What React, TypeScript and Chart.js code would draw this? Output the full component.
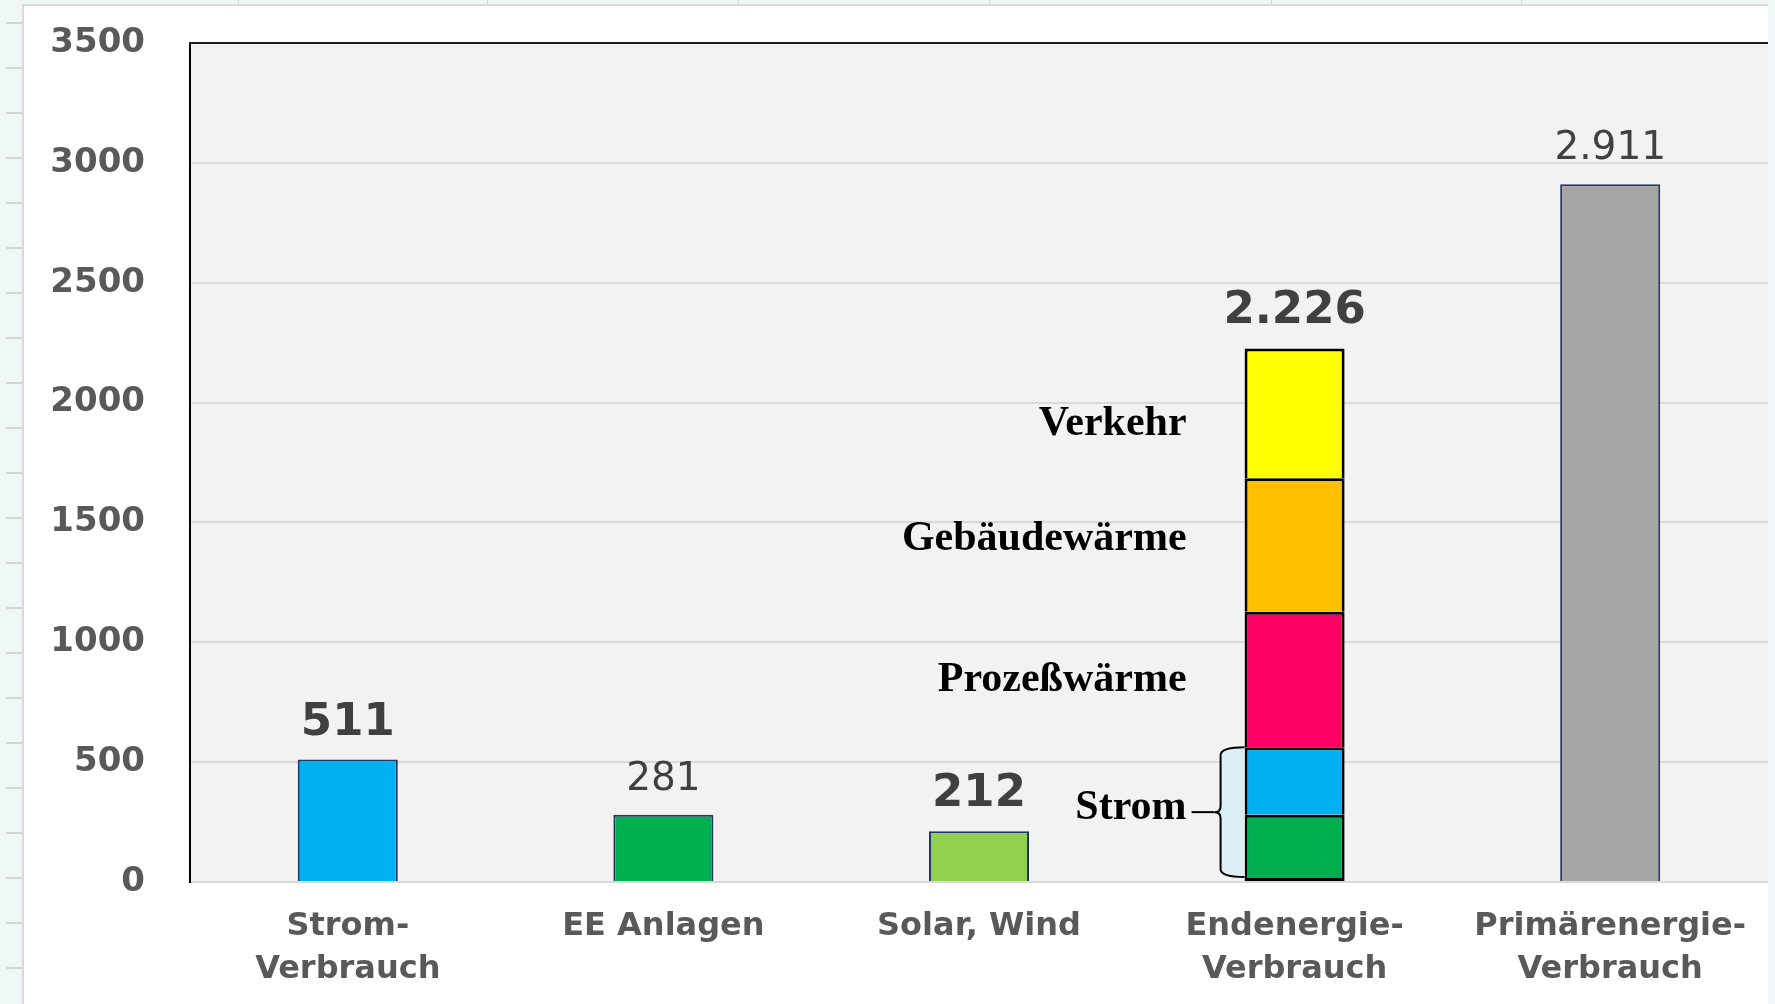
import React, { useEffect, useRef } from "react";
import { Chart, registerables } from "chart.js";

Chart.register(...registerables);

// ---------- data ----------
const categories: (string | string[])[] = [
  ["Strom-", "Verbrauch"],
  "EE Anlagen",
  "Solar, Wind",
  ["Endenergie-", "Verbrauch"],
  ["Primärenergie-", "Verbrauch"],
];
const singleValues: (number | null)[] = [511, 281, 212, null, 2911];
const singleColors = ["#00b0f0", "#00b050", "#92d050", "rgba(0,0,0,0)", "#a6a6a6"];
const valueLabelBold = [true, false, true, true, false];

const stackIndex = 3;
const stackNames = ["Strom (EE)", "Strom", "Prozeßwärme", "Gebäudewärme", "Verkehr"];
const stackValues = [281, 281, 565, 557, 542];
const stackColors = ["#00b050", "#00b0f0", "#ff0066", "#ffc000", "#ffff00"];

// side labels: text, first segment, last segment
const sideLabelNames = ["Strom", "Prozeßwärme", "Gebäudewärme", "Verkehr"];
const sideLabelFrom = [0, 2, 3, 4];
const sideLabelTo = [1, 2, 3, 4];

const yMin = 0;
const yMax = 3500;
const yStep = 500;

// style: small vertical nudges of the side labels (px)
const sideLabelNudge = [-7, -3, -9, 8];

// spreadsheet column edges visible at the top of the screenshot
const sheetColumnEdges = [238, 487, 738, 989, 1271, 1521];

function formatDE(n: number): string {
  if (n >= 1000) {
    return Math.floor(n / 1000) + "." + String(n % 1000).padStart(3, "0");
  }
  return String(n);
}

const overlayPlugin = {
  id: "overlay",
  beforeDraw(chart: any) {
    const { ctx, chartArea } = chart;
    ctx.save();
    ctx.fillStyle = "#f2f2f2";
    ctx.fillRect(chartArea.left, chartArea.top, chartArea.right - chartArea.left, chartArea.bottom - chartArea.top);
    ctx.restore();
  },
  afterDatasetsDraw(chart: any) {
    const { ctx, chartArea } = chart;
    const x = chart.scales.x;
    const y = chart.scales.y;
    ctx.save();

    // top border of plot area
    ctx.strokeStyle = "#1a1a1a";
    ctx.lineWidth = 2;
    ctx.beginPath();
    ctx.moveTo(chartArea.left - 1, chartArea.top);
    ctx.lineTo(chartArea.right, chartArea.top);
    ctx.stroke();

    // value labels
    const stackTotal = stackValues.reduce((a, b) => a + b, 0);
    ctx.fillStyle = "#404040";
    ctx.textAlign = "center";
    ctx.textBaseline = "alphabetic";
    categories.forEach((_, i) => {
      const v = i === stackIndex ? stackTotal : singleValues[i];
      if (v == null) return;
      ctx.font = valueLabelBold[i] ? 'bold 45px "DejaVu Sans"' : '39px "DejaVu Sans"';
      ctx.fillText(formatDE(v), x.getPixelForValue(i), y.getPixelForValue(v) - 25);
    });

    // cumulative boundaries of the stacked bar
    const cum = [0];
    stackValues.forEach((v) => cum.push(cum[cum.length - 1] + v));
    const el = chart.getDatasetMeta(1).data[stackIndex];
    const barLeft = el.x - el.width / 2;
    const labelRight = barLeft - 58;

    // brace for "Strom"
    const topY = y.getPixelForValue(cum[sideLabelTo[0] + 1]);
    const botY = y.getPixelForValue(cum[0]) - 5;
    const midY = (topY + botY) / 2;
    const bx = barLeft - 24;
    const brace = new Path2D();
    brace.moveTo(barLeft, topY);
    brace.quadraticCurveTo(bx, topY, bx, topY + 8);
    brace.lineTo(bx, midY - 6);
    brace.quadraticCurveTo(bx, midY, bx - 6, midY);
    brace.quadraticCurveTo(bx, midY, bx, midY + 6);
    brace.lineTo(bx, botY - 8);
    brace.quadraticCurveTo(bx, botY, barLeft, botY);
    const fill = new Path2D(brace);
    fill.closePath();
    ctx.fillStyle = "#daeef3";
    ctx.fill(fill);
    ctx.strokeStyle = "#000";
    ctx.lineWidth = 2;
    ctx.stroke(brace);
    ctx.beginPath();
    ctx.moveTo(bx - 6, midY);
    ctx.lineTo(barLeft - 53, midY);
    ctx.stroke();

    // side labels
    ctx.fillStyle = "#000";
    ctx.textAlign = "right";
    ctx.font = 'bold 42px "Liberation Serif"';
    sideLabelNames.forEach((name, k) => {
      const mid =
        k === 0
          ? midY
          : (y.getPixelForValue(cum[sideLabelFrom[k]]) + y.getPixelForValue(cum[sideLabelTo[k] + 1])) / 2;
      ctx.fillText(name, labelRight, mid + 14 + sideLabelNudge[k]);
    });

    ctx.restore();
  },
};

export default function App() {
  const ref = useRef<HTMLCanvasElement | null>(null);

  useEffect(() => {
    if (!ref.current) return;
    Chart.defaults.font.family = '"DejaVu Sans"';

    const datasets: any[] = [
      {
        label: "Werte",
        data: singleValues,
        backgroundColor: singleColors,
        borderColor: "#203864",
        borderWidth: 2,
        stack: "s",
      },
      ...stackValues.map((v, k) => ({
        label: stackNames[k],
        data: categories.map((_, i) => (i === stackIndex ? v : null)),
        backgroundColor: stackColors[k],
        borderColor: "#000",
        borderWidth: 3,
        borderSkipped: k === 0 ? false : "start",
        stack: "s",
      })),
    ];

    const chart = new Chart(ref.current, {
      type: "bar",
      data: { labels: categories as any, datasets },
      options: {
        responsive: false,
        animation: false,
        datasets: { bar: { categoryPercentage: 1, barPercentage: 0.317 } },
        layout: { padding: { top: 37, left: 0, right: 0, bottom: 0 } },
        plugins: {
          legend: { display: false },
          tooltip: { enabled: false },
          title: { display: false },
        },
        scales: {
          x: {
            stacked: true,
            grid: { display: false, drawTicks: false },
            border: { color: "#d9d9d9", width: 2 },
            ticks: {
              color: "#595959",
              font: { size: 32, weight: "bold", lineHeight: 1.32 },
              padding: 24,
              maxRotation: 0,
              autoSkip: false,
            },
            afterFit: (s: any) => {
              s.height = 122;
              s.paddingLeft = 0;
              s.paddingRight = 0;
              s.paddingTop = 0;
              s.paddingBottom = 0;
            },
          },
          y: {
            stacked: true,
            min: yMin,
            max: yMax,
            ticks: {
              stepSize: yStep,
              color: "#595959",
              font: { size: 34, weight: "bold" },
              padding: 45,
              callback: (v: any) => String(v),
            },
            grid: { color: "#d9d9d9", lineWidth: 2, drawTicks: false },
            border: { color: "#000", width: 2 },
            afterFit: (s: any) => {
              s.width = 166;
              s.paddingTop = 0;
              s.paddingBottom = 0;
              s.paddingLeft = 0;
              s.paddingRight = 0;
            },
          },
        },
      } as any,
      plugins: [overlayPlugin],
    });
    return () => chart.destroy();
  }, []);

  return (
    <div
      style={{
        position: "absolute",
        left: 0,
        top: 0,
        width: 1775,
        height: 1004,
        background: "#eff6f6",
        overflow: "hidden",
      }}
    >
      <div
        style={{
          position: "absolute",
          left: 6,
          top: 0,
          width: 18,
          height: 1004,
          backgroundImage:
            "repeating-linear-gradient(to bottom, transparent 0px, transparent 22px, #d4d4d4 22px, #d4d4d4 24px, transparent 24px, transparent 45px)",
        }}
      />
      {sheetColumnEdges.map((cx) => (
        <div key={cx} style={{ position: "absolute", left: cx, top: 0, width: 1, height: 5, background: "#d0d0d0" }} />
      ))}
      <div
        style={{
          position: "absolute",
          left: 22,
          top: 4,
          width: 1744,
          height: 1000,
          borderLeft: "2px solid #d9d9d9",
          borderTop: "2px solid #d9d9d9",
          background: "#ffffff",
        }}
      >
        <canvas ref={ref} width={1744} height={998} style={{ display: "block", width: 1744, height: 998 }} />
      </div>
    </div>
  );
}
